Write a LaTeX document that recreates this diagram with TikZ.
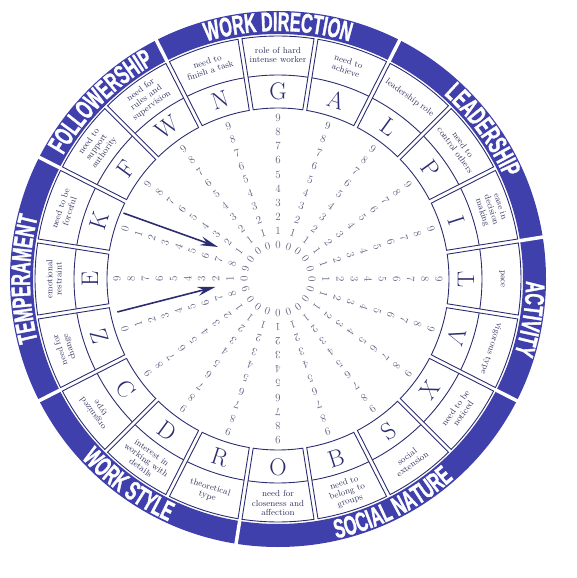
\documentclass[tikz,border=0pt]{standalone}
\usepackage{fontspec}
\usepackage{xcolor}
\definecolor{pibandblue}{RGB}{64,64,172}
\definecolor{pinavy}{RGB}{44,44,112}
\definecolor{pitext}{RGB}{52,52,96}
\definecolor{pidigit}{RGB}{96,96,128}
\newfontfamily\bandfont{Liberation Sans}[FakeStretch=0.6, FakeBold=1.2]
\newcommand\bandstyle{\bandfont\bfseries\fontsize{27}{27}\selectfont\color{white}}
\usetikzlibrary{arrows.meta, decorations.text}

\begin{document}
\begin{tikzpicture}[x=1pt, y=1pt,
    cellline/.style={draw=pinavy, line width=0.9pt},
    cellletter/.style={text=pinavy, font=\fontsize{24}{24}\selectfont, inner sep=0pt},
    celltext/.style={text=pitext, font=\fontsize{8.8}{9.4}\selectfont, align=center, inner sep=0pt},
    digit/.style={text=pidigit, font=\fontsize{11}{11}\selectfont, inner sep=0pt},
    bandgap/.style={draw=white, line width=3.5pt},
    pointer/.style={draw=pinavy, line width=1.6pt, -{Stealth[length=18pt, width=9pt, inset=6pt]}},
    bandlabel/.style={decorate, decoration={text along path, text={#1}, text align=center}}]
  \useasboundingbox (-278,-299) rectangle (298,279);

  % outer band with the seven factor groups
  \fill[pibandblue, even odd rule] (0,0) circle[radius=268] (0,0) circle[radius=245];
  \foreach \gap in {117,63,9,-27,-99,-153,153}
    \draw[bandgap] (\gap:241) -- (\gap:271);
  \path[bandlabel={|\bandstyle|WORK DIRECTION}] (117:248) arc[start angle=117, end angle=63, radius=248];
  \path[bandlabel={|\bandstyle|LEADERSHIP}] (63:248) arc[start angle=63, end angle=9, radius=248];
  \path[bandlabel={|\bandstyle|ACTIVITY}] (9:248) arc[start angle=9, end angle=-27, radius=248];
  \path[bandlabel={|\bandstyle|TEMPERAMENT}] (207:248) arc[start angle=207, end angle=153, radius=248];
  \path[bandlabel={|\bandstyle|FOLLOWERSHIP}] (153:248) arc[start angle=153, end angle=117, radius=248];
  \path[bandlabel={|\bandstyle|SOCIAL NATURE}] (-99:266) arc[start angle=-99, end angle=-27, radius=266];
  \path[bandlabel={|\bandstyle|WORK STYLE}] (-153:266) arc[start angle=-153, end angle=-99, radius=266];

  % cells: letter ring, text ring and the digit spokes
  \pgfmathsetmacro\dIn{asin(2/171)}
  \pgfmathsetmacro\dMid{asin(2/204)}
  \pgfmathsetmacro\dOut{asin(2/243)}
  \foreach \ang/\code/\lrot/\trot/\rev/\txt in {
      90/G/-90/-90/0/{role of hard\\intense worker},
      72/A/-90/-90/0/{need to\\achieve},
      54/L/-90/-90/0/{leadership role},
      36/P/-90/-90/0/{need to\\control others},
      18/I/-90/-90/0/{ease in\\decision\\making},
      0/T/90/-90/0/{pace},
      -18/V/-90/-90/0/{vigorous type},
      -36/X/90/90/0/{need to be\\noticed},
      -54/S/90/90/0/{social\\extension},
      -72/B/90/90/0/{need to\\belong to\\groups},
      -90/O/90/90/0/{need for\\closeness and\\affection},
      -108/R/90/90/0/{theoretical\\type},
      -126/D/90/90/0/{interest in\\working with\\details},
      -144/C/90/-90/0/{organized\\type},
      -162/Z/-90/-90/1/{need for\\change},
      180/E/-90/-90/0/{emotional\\restraint},
      162/K/-90/-90/1/{need to be\\forceful},
      144/F/-90/-90/0/{need to\\support\\authority},
      126/W/-90/-90/0/{need for\\rules and\\supervision},
      108/N/-90/-90/0/{need to\\finish a task}} {
    \draw[cellline] (\ang-9+\dIn:171) -- (\ang-9+\dOut:243)
      arc[start angle=\ang-9+\dOut, end angle=\ang+9-\dOut, radius=243]
      -- (\ang+9-\dIn:171)
      arc[start angle=\ang+9-\dIn, end angle=\ang-9+\dIn, radius=171] -- cycle;
    \draw[cellline] (\ang-9+\dMid:204) arc[start angle=\ang-9+\dMid, end angle=\ang+9-\dMid, radius=204];
    \node[cellletter, rotate=\ang+\lrot] (letter-\code) at (\ang:188) {\code};
    \node[celltext, rotate=\ang+\trot] (note-\code) at (\ang:224) {\txt};
    \foreach \k in {0,...,9} {
      \pgfmathsetmacro\rr{34+14.1*(\rev*(9-\k)+(1-\rev)*\k)}
      \node[digit, rotate=\ang-90] (digit-\code-\k) at (\ang:\rr) {\k};
    }
  }

  % the two pointers
  \coordinate (pointK-tail) at (156.9:168);
  \coordinate (pointK-tip) at (151.9:68);
  \coordinate (pointZ-tail) at (191.6:164);
  \coordinate (pointZ-tip) at (187.2:63);
  \draw[pointer] (pointK-tail) -- (pointK-tip);
  \draw[pointer] (pointZ-tail) -- (pointZ-tip);
\end{tikzpicture}
\end{document}
